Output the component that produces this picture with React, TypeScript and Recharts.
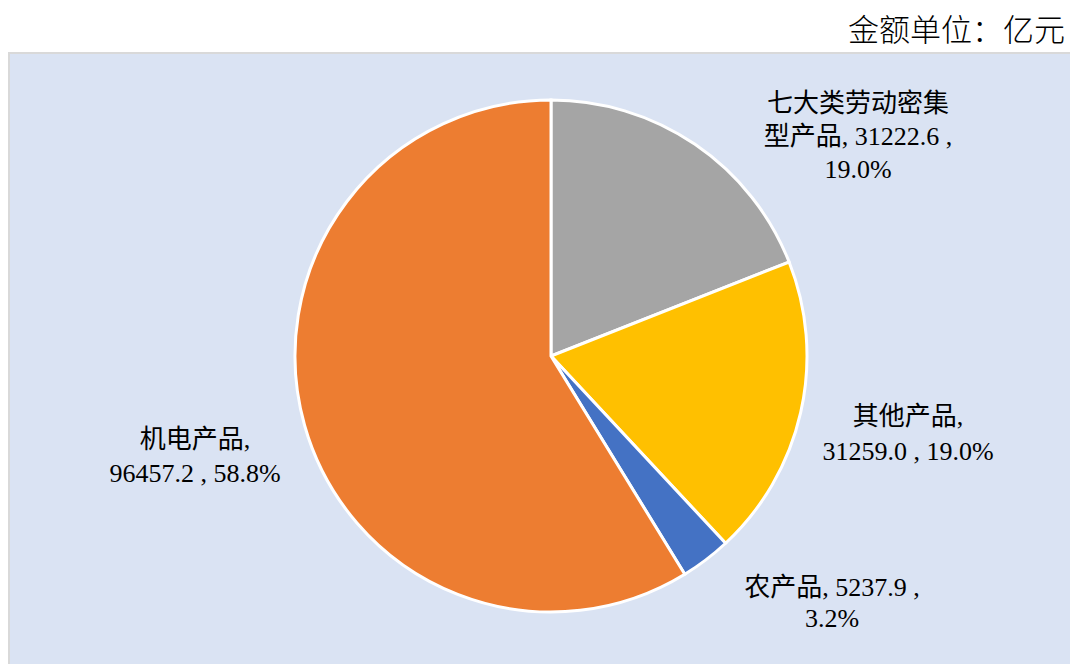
import { PieChart, Pie, Cell } from "recharts";

const categories = ["七大类劳动密集型产品", "其他产品", "农产品", "机电产品"];
const amounts = [31222.6, 31259.0, 5237.9, 96457.2];
const shares = ["19.0%", "19.0%", "3.2%", "58.8%"];
const labelLines = [
  ["七大类劳动密集", "型产品, 31222.6 ,", "19.0%"],
  ["其他产品,", "31259.0 , 19.0%"],
  ["农产品, 5237.9 ,", "3.2%"],
  ["机电产品,", "96457.2 , 58.8%"],
];

const colors = ["#A5A5A5", "#FFC000", "#4472C4", "#ED7D31"];

// label block placement, relative to pie centre
const labelOffsets = [
  { dx: 307, dy: -253, lh: 33 },
  { dx: 357, dy: 60, lh: 35 },
  { dx: 281, dy: 231, lh: 31 },
  { dx: -356, dy: 83, lh: 34 },
];

const data = categories.map((name, i) => ({
  name,
  value: amounts[i],
  share: shares[i],
}));

const font = "'Liberation Serif', 'Times New Roman', 'Noto Sans CJK SC', serif";

function renderLabel(props: any) {
  const { cx, cy, index } = props;
  const o = labelOffsets[index];
  const x = cx + o.dx;
  return (
    <text
      x={x}
      y={cy + o.dy}
      textAnchor="middle"
      dominantBaseline="central"
      fontFamily={font}
      fontSize={26}
      fill="#000"
    >
      {labelLines[index].map((line, j) => (
        <tspan key={j} x={x} dy={j === 0 ? 0 : o.lh}>
          {line}
        </tspan>
      ))}
    </text>
  );
}

export default function App() {
  return (
    <div
      style={{
        position: "absolute",
        left: 0,
        top: 0,
        width: 1070,
        height: 664,
        background: "#fff",
        overflow: "hidden",
      }}
    >
      <div
        style={{
          position: "absolute",
          right: 5,
          top: 8,
          fontFamily: "'Noto Sans CJK SC', sans-serif",
          fontWeight: 300,
          fontSize: 31,
          color: "#000",
          lineHeight: "40px",
        }}
      >
        金额单位：亿元
      </div>
      <div
        style={{
          position: "absolute",
          left: 8,
          top: 52,
          width: 1070,
          height: 620,
          background: "#DAE3F3",
          border: "2px solid #D9D9D9",
          boxSizing: "border-box",
        }}
      />
      <div style={{ position: "absolute", left: 0, top: 0 }}>
        <PieChart
          width={1070}
          height={664}
          margin={{ top: 0, right: 0, bottom: 0, left: 0 }}
        >
          <Pie
            data={data}
            dataKey="value"
            nameKey="name"
            cx={551}
            cy={356}
            outerRadius={256}
            startAngle={90}
            endAngle={-270}
            stroke="#FFFFFF"
            strokeWidth={3}
            label={renderLabel}
            labelLine={false}
            isAnimationActive={false}
          >
            {data.map((d, i) => (
              <Cell key={d.name} fill={colors[i]} />
            ))}
          </Pie>
        </PieChart>
      </div>
    </div>
  );
}
